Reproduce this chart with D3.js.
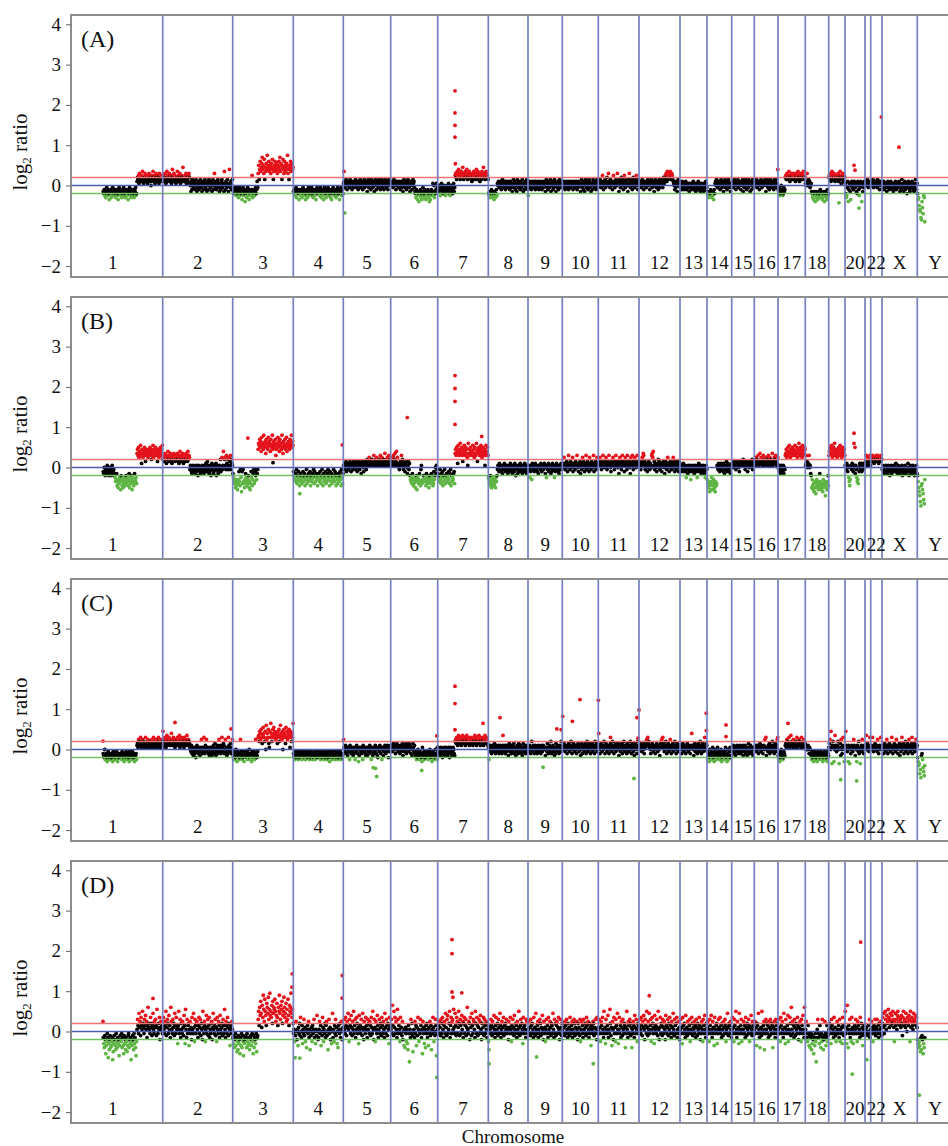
<!DOCTYPE html>
<html><head><meta charset="utf-8">
<script src="https://cdn.jsdelivr.net/npm/d3@7"></script>
<style>body{margin:0;background:#fff}svg{display:block}</style>
</head><body><svg id="chart" width="948" height="1146"></svg>
<script>
// ---------- data ----------
const chromNames = ["1","2","3","4","5","6","7","8","9","10","11","12","13","14","15","16","17","18","19","20","21","22","X","Y"];
const chromLabels = ["1","2","3","4","5","6","7","8","9","10","11","12","13","14","15","16","17","18","","20","","22","X","Y"];
// relative chromosome lengths (probe-coordinate units)
const chromLen = [100,70,60.6,50,47.4,47,50.6,39.7,34.3,36,40.7,41,27,24.7,22.6,23.7,27.3,23.4,16.3,20,5.7,11.3,35.3,35.4];
// fraction of each chromosome covered by probes
const coverage = chromNames.map((c,i)=> i===0 ? [0.403,1] : (c==="Y" ? [0,0.22] : [0,1]));
const panelNames = ["(A)","(B)","(C)","(D)"];
const yTicks = [-2,-1,0,1,2,3,4];
const gainCut = 0.2, lossCut = -0.2;
// probe log2 ratios, one character per probe: A..Z = 0.00..1.25, a..z = -0.05..-1.30 (step 0.05)
const probesA = [
"cdbecfdacebdgcdbfecadcebdfcbedgcadbecfdbcaedfcbdecgbdacefdbcedfbcaedCEDFBGDCEFDHCBEDGFCDEBFCGDECAFDEHCDFBEGDCFEDBGCEDFCD",
"DFCEGDBEHCFDEGCDFBEIDCGEFDBCEHDFCEGBDFECJDCEFDGBEDCFGEBAcCbDBaACbBDAcaBCbABDaCcBAbCBDaAbcBCADbBaCAcBDbAGCaBbACDBacABbCDaBAcHBbCAaDBcAIBaCbAD",
"bcadbceabdcfbaecdbgcaebdhcbfdaecgbdcebFfcdbecadbCaGKDIMHJLOIKGNDJHLIPKJMHIKGLJNIDHKMJILHGKJMIOHLKDJNIGMKHJLIPGKDIJMHLKIJ",
"cbdecafcbdcgbdecbfcadbecgdcbfeacdbceadcfbdcebgcadbcdecafbdcegbacdfcbdaecbdfcgbdacebdcfbeadcbgdcaecbd",
"BCAaBDCbBACBaDBCAbCBaBCADBaCBbACBDaBCAbBCDaBCABcBDaCBAbDCBaBCcADBbCABaDCBbACDaBCbBADCaBCbADBCB",
"BACBaBDBCAbBCABaCBAbBCaBcBDAaCBbACDBaBcACBbADBCacdfbegcdhcebfdgcaedfbcgdecbfdhcgebdcBeAfcdbBca",
"abcAbeaBcbadAcbebaAcbBdaebcAadbBcaFGEDHFGIEFDGHEFJGDFEHGFIEDGFHEGFDCEGFHDEFGIEDHFGECFGDHEFJGEDFHGEFD",
"decfedbfecdgcefdbeBACBaBCAbBDCaBACbBCAaBCBAbCBaBcADBaCbBAcDBaCABbCaBDAcBbACBaDCb",
"eBACaBbACBaBCAbCBaBACbBaCBAbBCaBACcBDaBbCAaBDcABCbaBDCAcBaBCbADBaCAB",
"BAaCBbABCaBAbCBAaBCBAbACBaBCAbBaCABAcBDaBCbAcBDAaCBbADCaBcBAbDCBaACbBDAa",
"BCADBaCBFAbCBDaBCEBAGCBaDBCAbBFCBaCDBAGBCcDBaCEBDAbCFBaDCBAcBDGBaCBDbAEBCaDBFCAbDB",
"BACBaBDCAbBCABaCBDBCAbCBDBaCBAcBDCaBACbBDaCBCDBaCEBDFEGCHFDGEFHDEGFDCBAbBaCBcADBCA",
"aBAbCaABbAaCBbAaBAcBaAbBAaCbaBAcBbAaCbABcaBAbAcBaAbCBa",
"cedfcedbcfdecgbdBCADBaCBABbCDBaBCcBADaCBbACDBaBcAB",
"BCAaBDCBbACBDaBCABbCBADcBaCBDAbBCaDBAcBCbADBaC",
"BACBDaBCBAbCBDBaCBABCDBcABDaCBbADCBaBCAbDBCaBDBI",
"bcaebdAcbedacbEFDGEDFHECFEGDEFDGEFCEGDFHEDCGFEDGFEHDFE",
"BACGBADBCaABcdfegcdhcefdgcedfbdcegfdchecdfgbed",
"EFDGCEHFDEGFCEDFDEGCFEHDBFEGDCFE",
"BdfeaChbBAcgBCaBbACBaBcAdCBbeAaCBhAcBaCB",
"BCABDAaBCAB",
"BACBDaBCBACBaDBCAbBCAB",
"AaBCbAaBAcBCaAbBACaBAbcABaCAbBAaBCacBAbDaBcAaCbBAdBaCAbcBAaCBbAcaBDAbB",
"dgfjlmpqhknefr"
];
const probesB = [
"bcAbdacbBcadbAcbdaBcbadcegfcigjfhegkdfigjhegifdhgfeicjghfdkegihcfgehHJGKFIHLGCJHFIGKHDJGIHFJGHKIGEJHLFIGJKHGIDHJFGIKHJGL",
"EFGDHEFCGFIEDGFHEDCFGEHFDEGFEHDGCFIEGDFHECGFDEHGFDIEGFaBAbcaBAbaAcBbaAdBAabcAbBaAbcBAaCbADaBcAbBdaCBAcbABaCdBAbcaBAEbAFaBIAEFBaGCBEaFBDGaECB",
"cefhgjfigkhfbgiaelbhaghjfcegihfdjgkhbeifcahgbdafcaJMLOKNIPLMJQKLNHOMKJPLNMIOKLQJMNKLOGJMLPKNIOLMJQKHNMLOJKPIMLNKJOLMQKNL",
"bdfecgahdfbeigcdfhebgdcifeahdgcfebidgfceahbdgecfidcegbfhdaeicgfdbhegcafdibegchdfaegbcidfhecgdbfiaehc",
"BACaBDbCBAaCBDBbACBaDCBCaBDbACBDaCBcBDCAbBCDBaCEBDCFBCDBEDCBGDCEBDFCBDCEBGDCFBDECBHCDEBFCDGBEC",
"BCDFBGCEHBDICFBCAaBDCGBEDaCBbCDBAcBDaCdfgehcfihgejfdkgehfcgiaBhfgddgfeichgfejdhgfcegihbfdAcBac",
"cedgafhcebigdafhecdgebfhcaidgefcbhHJGKICLHGJMIHKGDJHLIGKHJFBMHGJKIHGILHJFKGHMIDJHKGIJLHFGKIHJBGLIHKG",
"efhgdijfhegihfjegdaBAbCAaBbAcBAaCBbAaBAcbABaCAbBcAaBbCAdBaAcBbAaCBbAcaBAbCaBAcbA",
"BAaeBbAfCBaAbBCAaBbAcBABaCAbBAaBCAcBeAaBCbAaBcAbCBaAeBbACBaAbcBAaCBA",
"BCAFBaCBDAbBGCBaDBCAFbBCAaDBCGBAbCBDcBaCFBDAbCBGaBDCAbFCBaDBCAGbBCDaBFCB",
"CBDFBCaDBGCBADCFBaCDBGCBAbDCBFCDaBCGDBCADcBFDCaBGDCBbDFCBaGDCBDAcFBCGDaBCFDBACGBDC",
"BCAaBDFCHGBDaCBAbBCDBaCBAGHFIBDaCBAbBCEBDaCBAbBCDBAcBDCaBFCBbADCBaCBFDAbBCaDBCAbDC",
"AabBAaCbAaBbeAacBaAbBfaAbBaAcbBaAbeBaCbAaBcAbaBAcbeABa",
"fhjgilhkgeigkfhjlgihBAaCBbABCaBAbCBcAaBDbACaBbAcBA",
"CBDACBDCaBCDBCAbCDBCDBCEBDCaBCDBbCDACBDCBEaCBD",
"CDBFCEDGCBDHCEFDBCGDEBCFDCEBGDCFBEDCHBDCFECGDBCF",
"AaBbAcBaAbBcAaGHJFIKGHLIFJHGKIHJGLGIHKFJHMGIKHJFLGIHKJ",
"BCGDABCGABcdjfikhlgjmhfigkjhcgikhjlfhignjhkgdi",
"GIKHJLGFIKHMJGIHFJHKGILHJFGKIHJG",
"BAaCBbAegifBAaCBbABAcBaegfhAbCBaCbABaCBA",
"CDGBCFBDCGB",
"EDFGDECFEDGFEDGCFEDFGE",
"aBAbcAaBbAcaBAbdAaBcbAaBAbaCAbcABaAcbAaBdAbcaBAcbAaCbdAaBcAbaBcAdbAaBc",
"dgjlnqsihkmprf"
];
const probesC = [
"bcdAecbdfcaedbcedbcfadcebdcaefcdbcbdceacbdfcebadcebdfacdbecadbcfdcbeCDBFCEDGCBDFCEBDCGDBECFDBCEDCBFDCGBDECFBDCEGDBCFDCEB",
"DFCEGDBFHCEDGFDCEIDFCGEDBFCEDGCFDHBECGFDCEBGDFCEHDCFEDBAaCbBAcaBbAdBCaAbBAcaBFAbBaGAbCBFaBAbAcBabBcAaCBbDAcaBCbAFBaCbAGBaDCbAFaBcAbGCBaDBbAF",
"bcaebdAcfbacedbFcaebdcfabcbdaecbAdcebfacbdaecFbdcaGHEJIFKGDHLIGEJAMFIGKDBJGNIEHKGLIJHFGIDJHKEGMIHFJAGKIHDLGJFHIKGBJHEIGN",
"bcaebdcbacedbcabdecbacdbecabdcbaecdbcaebdcbeacbdcabcdaebcdbacebdcabedcbafcdbaecbdcaebcdbaedcbacebdcb",
"FBAaCBbAcBAaeCBbAaBcAbBeAaCBbAfcBAaBbAeCBaAbcBAcBaAbCBaeBAcbABaCBbAcdBAaCBbAeABcaBCAbBaCBdAaBC",
"BCAaBDBCAbBCDBaCBAbBCaBDcBAaCBDbACBaDBCAbBcADBaCbcaebdAcbeacbdfBbcaedcbcadbecaAbdcfbaecbdAcbeB",
"aBbAcaBAbdAaBcAbBaAcbBAdaBbAcaBAbcEFDGECFHDEGFCEDHFEGDCFEHDGEFCDFGEDFCEGDHFECGEDFHDECGFEDGCEFHDEGFDC",
"BeACaBbACBaBDAbCBaBACbBaCBAbBCaBACbBaCBAcBDaBCbAaCBDbABcaBCAbDBaCBAbcBDaBCAbBCaB",
"BAaCBbAEBaCAbBCAaBbACBaBAbCBaACBABcBAaDBbACBaEbABCaBcAbDBaCBAbBCaEBA",
"BCADBaCBAbBCDBaCBEAbBCDBaCBAbBCDBaCBcADBbCAaBDCbAEBaCDBAbCBDaBCAbEBCDaBC",
"BCAbBDCaBCAEBbCDBaCBAbBCDBaCEBAbBCDaBCABDcBAaCBDbACEBaCBAbDCBaBCEAbBDCaBcADBCbAEBC",
"BCADBaCBDAbCBDEFCGDEBCAbBCDBaCBAbBCDBaCBAcBDEFCGBDaCBEAbCBDaBCFAbBCDaBCEBAbCDBaCBA",
"BCAbBDCaBCAbBCDBaCBAbBCIBCAcBDaBCAbBDCaBEAbCBDaBCGBADC",
"aebcfAdbaecBbdfaAcebaBcdaebcAfdbacebaBcdfAbecaBdca",
"BAaCBbAcBaCABbAaCBbABaCcBAaCbBAcBaDAbBCaBbAcBA",
"BACBaBCAbBCDBaCBAbBCAFBGcBAaCBDbACBaEBCAbBDaCBFG",
"cebfdaAcbedabcCDBFCEDGCBDHCEDBFCDBCEDGBDCFECDBGCDEBFCD",
"BACABCAbBAbceadbfcaebdcfabecbdacebfdcabecdafbc",
"BDFAJBgCEBfAHCBaCBEAgBDcFAbCGBfA",
"BJCAaBfCBgAbBCAaBFCBcBAfCBaEbAgBCaFBAbCB",
"BCHADBCaBGB",
"BCAGBaCBDABCaFBbACBGAB",
"BCAbBDCaBFAbCBDBaCBGAbBCDBaCFBAbBCDcBaCGBDAbCBEaBCDbAFBCaBDGbCABDaCFBC",
"dfhgljncbeikmh"
];
const probesD = [
"cfhbdkgeacmfidbhgecnjfbdgiaehcfdlgbdeahcgkbfdicejgbahdfcnegbdiafchleBGDaJCFbHDBKECaGDIBFcDMCEBaHCEbDJBaFCGDbLCaEBHdCFBDa",
"CHBaFDKbCGEaIBDcMFBaGCEbJDaHBCfDKaBGcEBaFCbIDfLBcGaDEgBFaCdHBaJCeGDaEFBcDHaCGbEBdKCaFDeBIaCGbDHcBaEFdCJBaDGbCeHBaFDcIBaCEbGDaLBcFDaHCbEBgDaCFB",
"cfbhdagcjeibfdkcgahbeldfcbdhaegcficbdgaekbhcdfajcbGKDMIPJCNHSLFQKIDOMJRGLTIKHNEPJMLQKFIOHDMKSJGNLPEIKRMHJOFLGQIDNKMTJHLE",
"aBembFAdBgCaEbHAcDfBaGbCeAhBDaFcBiAbCeDaBGcAfBbIAdcBFaDgAbHCeBaEcDFbAiBGaCdBfAJcBeDaGbCfAhDBaEcBFdAC",
"CGBaHDbFCJBeGDaICbFBKaDGcBHEaCfIBDaGCbJBdFCaHBDcGBEaFDbHCaKBdGCeFBaIDcBGaECbHDaFBcJCaGDbEBfHCD",
"BGaNDbKCHaFBcLGaDBeHaCbFdAgBhCaeBfiDaoBcGaEbjABcFaDgCbHBeAaGDcBkFaCfBhDaEcBgCaFbDiBaHCeAbGDlaB",
"BDaFCbGaEHBcDFaJCbGIaBEKcDHaFGBLCaJDbHFaCKEbGDaIBFcEHaDGbCMBaFEdHCbJDaGFBcKEaHDbCGaFIBdEaCHbGDaFBcED",
"eiCBaGDbFCaIBcDHaBEbGCaJDcBFaCHbDaEBGaCBdFCaHBeDaGCbIBaEDcFBaKCbDGaEBfHCaDBcGFaB",
"BFaCbGDaEBcHaCbJBaDFcBaGEbCaIBdFaCeBGaDcHBaFCbEDaJBcGaEbDFaCHBdaGCbE",
"BEaCbFDaGBcEaCbHBaDFcBaGEbCaFBdEaCbGeBFaDcGBaECbHDaFBcEaCgDBaFEbCaGBdHaC",
"BGaCeFDaHBcKaCfGBaDIcBaLEbCgFBdHaCeGDaJBfBHaDcFCbGBaEDhCaKBcFDaGEbChBaFDcICaGBeEaD",
"CGBaHDbFCIBdGDaKCbFBJaDGeBHEaCfIBDaGCbKBdCHaEDbGCaFBdIDaCGbEBHaDcFCaJBbGDaEHcBaFCd",
"BGaCfHDaEBcIaCbFBaDGeBaHEbCBFaDcGCbEBaHDdCaFBeGDaIBcEa",
"CFaBeGDaIBcFaCgHBaDEfBaGCBHaDcEBbFCaGDeBaJCbEDaFBc",
"BHaCeGDaKBcFaCfJBaDGeBaBFaDcHCbEBaGDeCaIBbFDaC",
"BFaCgEDaJBchaCbKBaDFiBaGBEaDcFCbGBaEDhCaFBcGDaEB",
"BGaCeHDaFBcJaCfGBaDIeBaHEbMBFaDcGCbEBaHDdCaFBeGDaIBcMa",
"BFaceDagbhcaifbdkcgaeocBGacfDbhaeGcidbFagcDeba",
"BEaCfGDaBcHaCbeAFBaDcGeBaCfHDbaC",
"KaCfNBhDaGcBeHaCfBaDBGaCeFDaBcHaEbCgBaDb",
"BaCnAbDaGcB",
"BFaCeBDaGbCBGaDcEBaFCb",
"EHCJaDKGBIEFLHCGJDFIEKGCeFJDGBIKEHFDGCIEbHKDFGCJEAHFDIGeKCFHDBJGEFIDHC",
"dfhegjcibdkfhc"
];
// isolated probes: [chromosome index, position fraction, log2 ratio]
const outliersA = [[4,0.015,0.35],[4,0.03,-0.68],[6,0.342,2.35],[6,0.342,1.80],[6,0.342,1.49],[6,0.342,1.20],[6,0.35,0.54],[18,0.63,-0.43],[19,0.7,-0.56],[19,0.45,0.5],[19,0.5,0.38],[21,0.94,1.70],[22,0.48,0.95]];
const outliersB = [[2,0.25,0.73],[2,0.665,0.12],[3,0.13,-0.65],[3,0.98,0.56],[5,0.353,1.24],[6,0.342,2.28],[6,0.342,1.96],[6,0.342,1.64],[6,0.342,1.07],[6,0.87,0.77],[19,0.45,0.85],[19,0.45,0.6],[19,0.5,0.5]];
const outliersC = [[0,0.403,0.21],[1,0.176,0.67],[1,0.005,0.45],[1,0.976,0.51],[4,0.705,-0.67],[4,0.63,-0.45],[4,0.68,-0.47],[5,0.66,-0.52],[5,0.98,0.34],[6,0.342,1.57],[6,0.342,1.14],[6,0.342,0.49],[6,0.895,0.65],[7,0.295,0.79],[7,0.37,0.35],[8,0.44,-0.44],[8,0.84,0.51],[8,0.965,0.49],[9,0.01,0.82],[9,0.28,0.70],[9,0.49,1.24],[10,0.0,1.22],[10,0.01,0.40],[10,0.3,0.30],[10,0.877,-0.72],[10,0.95,0.79],[10,0.975,0.28],[11,0.0,0.98],[12,0.974,0.90],[12,0.974,0.47],[13,0.77,0.61],[13,0.77,0.32],[16,0.366,0.65],[18,0.736,-0.75],[19,0.585,-0.78]];
const outliersD = [[0,0.403,0.25],[0,0.903,0.82],[2,0.983,1.43],[2,0.978,1.10],[3,0.13,-0.66],[3,0.98,1.39],[3,0.975,0.83],[5,0.98,-1.14],[6,0.283,2.28],[6,0.283,1.93],[6,0.283,0.98],[6,0.3,0.85],[6,0.475,0.96],[7,0.02,-0.8],[8,0.25,-0.63],[9,0.86,-0.8],[11,0.25,0.89],[19,0.365,-1.06],[19,0.785,2.22],[23,0.056,-1.58]];

// ---------- drawing ----------
const FONT = "'Liberation Serif','Times New Roman',serif";
const svg = d3.select("#chart");
const total = d3.sum(chromLen);
const bounds = Array.from(d3.cumsum([0].concat(chromLen)));
const x = d3.scaleLinear().domain([0, total]).range([62.7, 952.7]);
const frameL = 71, frameR = 952, frameH = 262;
const decode = ch => { const c = ch.charCodeAt(0); return c < 97 ? (c - 65) * 0.05 : -(c - 96) * 0.05; };
const colorOf = v => v > gainCut + 1e-9 ? "#e5121b" : (v < lossCut - 1e-9 ? "#5fb544" : "#000");

const panels = [
  {probes: probesA, out: outliersA},
  {probes: probesB, out: outliersB},
  {probes: probesC, out: outliersC},
  {probes: probesD, out: outliersD}
];

panels.forEach((p, k) => {
  const top = 15 + k * 282;
  const y = d3.scaleLinear().domain([-2, 4]).range([top + 251.1, top + 9.3]);
  const g = svg.append("g");
  const clipId = "clip" + k;
  g.append("clipPath").attr("id", clipId).append("rect")
    .attr("x", frameL).attr("y", top).attr("width", frameR - frameL).attr("height", frameH);
  const pts = [];
  p.probes.forEach((s, ci) => {
    const [c0, c1] = coverage[ci];
    const n = s.length;
    for (let i = 0; i < n; i++) {
      const f = c0 + (i + 0.5) / n * (c1 - c0);
      pts.push({pos: bounds[ci] + f * chromLen[ci], v: decode(s[i])});
    }
  });
  p.out.forEach(([ci, f, v]) => pts.push({pos: bounds[ci] + f * chromLen[ci], v}));

  const plot = g.append("g").attr("clip-path", `url(#${clipId})`);
  plot.selectAll("circle").data(pts).join("circle")
    .attr("cx", d => x(d.pos)).attr("cy", d => y(d.v)).attr("r", 1.9)
    .attr("fill", d => colorOf(d.v));

  // threshold lines
  [[gainCut, "#ef7474"], [lossCut, "#74bf62"], [0, "#4a5aae"]].forEach(([v, c]) => {
    plot.append("line").attr("x1", frameL).attr("x2", frameR)
      .attr("y1", y(v)).attr("y2", y(v)).attr("stroke", c).attr("stroke-width", 1.4);
  });
  // chromosome boundaries
  plot.selectAll("line.chr").data(bounds.slice(1, bounds.length - 1)).join("line")
    .attr("class", "chr")
    .attr("x1", d => x(d)).attr("x2", d => x(d)).attr("y1", top).attr("y2", top + frameH)
    .attr("stroke", "#7480c0").attr("stroke-width", 1.7);

  // frame
  g.append("rect").attr("x", frameL).attr("y", top).attr("width", frameR - frameL).attr("height", frameH)
    .attr("fill", "none").attr("stroke", "#8d8d8d").attr("stroke-width", 2);

  // y axis
  const ax = g.append("g").attr("transform", `translate(${frameL},0)`)
    .call(d3.axisLeft(y).tickValues(yTicks).tickSize(5).tickPadding(5)
      .tickFormat(d => d < 0 ? "\u2212" + Math.abs(d) : String(d)));
  ax.select(".domain").remove();
  ax.selectAll("line").attr("stroke", "#666");
  ax.selectAll("text").attr("font-family", FONT).attr("font-size", 19).attr("fill", "#111");

  // chromosome labels
  g.selectAll("text.cl").data(chromLabels.map((l, i) => ({l, i})).filter(d => d.l)).join("text")
    .attr("class", "cl")
    .attr("x", d => x(bounds[d.i] + chromLen[d.i] / 2)).attr("y", top + 254)
    .attr("text-anchor", "middle").attr("font-family", FONT).attr("font-size", 19).attr("fill", "#111")
    .text(d => d.l);

  // panel letter
  g.append("text").attr("x", 81).attr("y", top + 32).attr("font-family", FONT).attr("font-size", 24)
    .attr("fill", "#111").text(panelNames[k]);

  // y label
  const yl = g.append("text").attr("transform", `translate(27,${top + 137}) rotate(-90)`)
    .attr("text-anchor", "middle").attr("font-family", FONT).attr("font-size", 21).attr("fill", "#111");
  yl.append("tspan").text("log");
  yl.append("tspan").attr("font-size", 13).attr("dy", 4).text("2");
  yl.append("tspan").attr("dy", -4).text(" ratio");
});

svg.append("text").attr("x", 513).attr("y", 1143).attr("text-anchor", "middle")
  .attr("font-family", FONT).attr("font-size", 19).attr("fill", "#111").text("Chromosome");
</script>
</body></html>
